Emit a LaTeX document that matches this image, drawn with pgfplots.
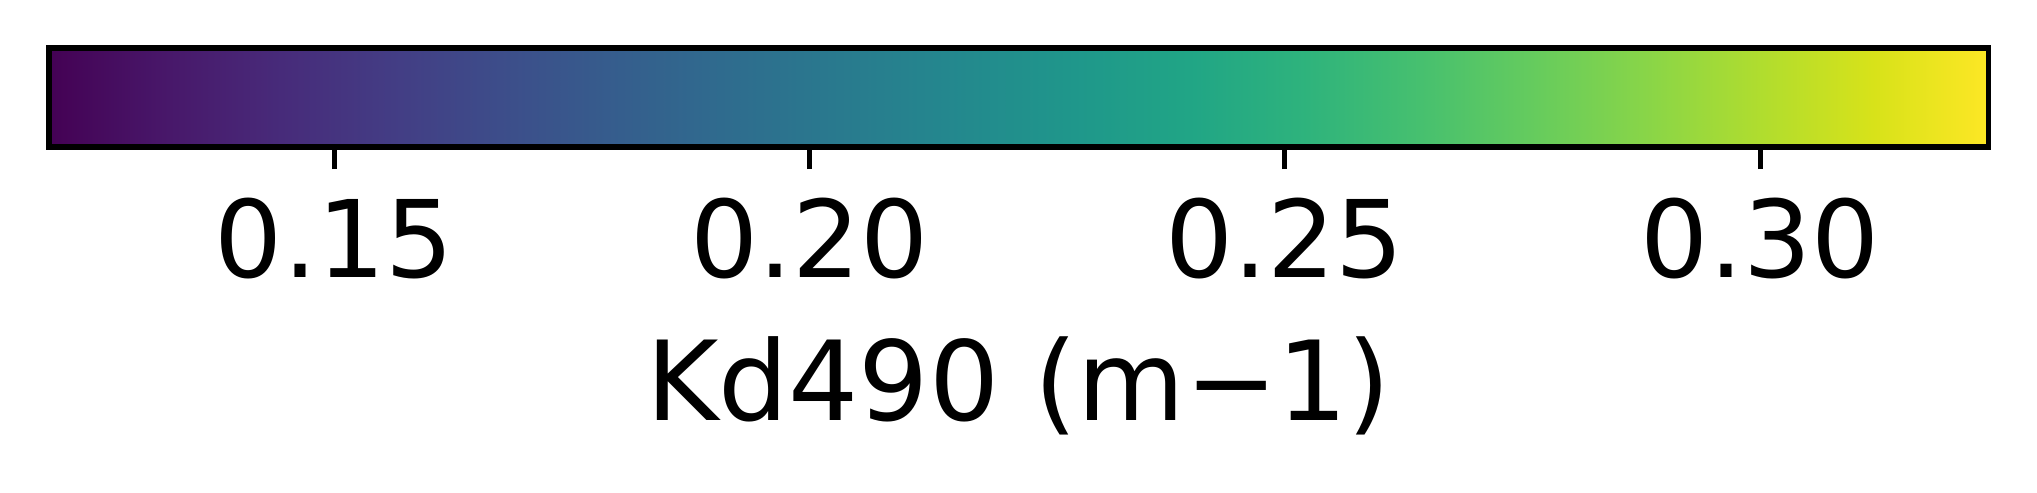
\documentclass[border=0pt]{standalone}
\usepackage{pgfplots}
\pgfplotsset{compat=1.18}
\usepackage{fontspec}
\setmainfont{DejaVu Sans}
\begin{document}
\begin{tikzpicture}
\begin{axis}[
  scale only axis,
  width=465.4pt, height=23.76pt,
  xmin=0.12, xmax=0.324, ymin=0, ymax=1,
  colormap/viridis,
  point meta min=0.12, point meta max=0.324,
  axis line style={line width=1.25pt},
  xtick={0.15,0.20,0.25,0.30},
  ytick=\empty,
  xtick pos=bottom,
  tick align=outside,
  major tick length=5.3pt,
  every tick/.style={black, line width=1.15pt},
  /pgf/number format/assume math mode=true,
  xticklabel style={font=\fontsize{25.7}{30}\selectfont, yshift=-3.4pt, /pgf/number format/.cd, fixed, fixed zerofill, precision=2},
  xlabel={Kd490 (m−1)},
  xlabel style={font=\fontsize{26.5}{30}\selectfont, at={(axis description cs:0.5,0)}, anchor=base, yshift=-65.5pt},
  axis on top,
]
\addplot[surf, shader=interp, point meta=explicit] coordinates {
(0.12,0) [0.12] (0.324,0) [0.324]

(0.12,1) [0.12] (0.324,1) [0.324]
};
\end{axis}
\pgfresetboundingbox
\path ([xshift=-11.76pt,yshift=-83.0pt]current axis.south west) rectangle ([xshift=477.1pt,yshift=35.3pt]current axis.south west);
\end{tikzpicture}
\end{document}
